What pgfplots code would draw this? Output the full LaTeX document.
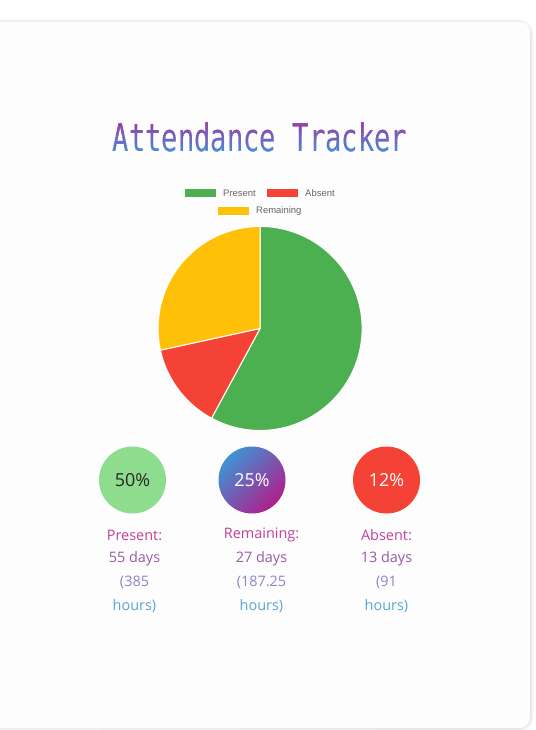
\documentclass[border=0pt]{standalone}
\usepackage{pgfplots}
\pgfplotsset{compat=1.18}
\usepackage{pgfplotstable}
\usepackage{fontspec}
\setmainfont{Open Sans}
\newfontfamily\legendfont{Liberation Sans}
\newfontfamily\titlefont{DejaVu Sans Mono}
\definecolor{cgreen}{HTML}{4CAF50}
\definecolor{cred}{HTML}{F44336}
\definecolor{cyellow}{HTML}{FFC107}
\definecolor{clgreen}{HTML}{8EDD8E}
\definecolor{tmag}{HTML}{A8309A}
\definecolor{tblue}{HTML}{4A8AD4}
\definecolor{gblue}{HTML}{3E93D3}
\definecolor{gpurp}{HTML}{B01E8C}
\definecolor{legtext}{HTML}{666666}
\definecolor{lone}{HTML}{C0409C}
\definecolor{ltwo}{HTML}{9C58A8}
\definecolor{lthree}{HTML}{8A86C8}
\definecolor{lfour}{HTML}{58A6DA}
\definecolor{cardbg}{HTML}{FDFDFD}

\pgfplotstableread{
label value
Present 55
Absent 13
Remaining 27
}\attendance

\begin{document}%
\begin{tikzpicture}[x=1bp,y=1bp]
\pgfplotstablegetelem{0}{value}\of\attendance \let\vP\pgfplotsretval
\pgfplotstablegetelem{1}{value}\of\attendance \let\vA\pgfplotsretval
\pgfplotstablegetelem{2}{value}\of\attendance \let\vR\pgfplotsretval
\pgfmathsetmacro\total{\vP+\vA+\vR}
\pgfmathsetmacro\aZero{90}
\pgfmathsetmacro\aOne{90-360*(\vP/\total)}
\pgfmathsetmacro\aTwo{\aOne-360*(\vA/\total)}
\pgfmathsetmacro\aThree{\aTwo-360*(\vR/\total)}
\fill[white] (0,0) rectangle (536,-730);
% card with soft shadow
\foreach \k/\o in {4/0.02,3/0.025,2/0.03,1/0.035}{
  \fill[black,opacity=\o] (-30,{-22+\k-1}) -- ({518},{-22+\k-1}) arc[start angle=90,end angle=0,radius={12+\k}] -- ({530+\k},{-716}) arc[start angle=0,end angle=-90,radius={12+\k}] -- (-30,{-728-\k+1}) -- cycle;
}
\fill[cardbg] (-30,-22) -- (520,-22) arc[start angle=90,end angle=0,radius=10] -- (530,-718) arc[start angle=0,end angle=-90,radius=10] -- (-30,-728) -- cycle;

% title with vertical gradient
\foreach \i in {0,...,17}{
  \pgfmathsetmacro\pct{100*\i/17}
  \colorlet{tc}{tblue!\pct!tmag}
  \begin{scope}
    \clip (100,{-117-2*\i}) rectangle (420,{-119.4-2*\i});
    \node[anchor=base,text=tc,inner sep=0] at (260,-151) {\titlefont\fontsize{27.3}{30}\selectfont\scalebox{1}[1.4]{Attendance Tracker}};
  \end{scope}
}

% legend
\fill[cgreen] (185,-189) rectangle (216,-197);
\node[anchor=west,inner sep=0,text=legtext] at (223,-193) {\legendfont\fontsize{9.5}{11}\selectfont Present};
\fill[cred] (267,-189) rectangle (298,-197);
\node[anchor=west,inner sep=0,text=legtext] at (305,-193) {\legendfont\fontsize{9.5}{11}\selectfont Absent};
\fill[cyellow] (218,-207) rectangle (249,-215);
\node[anchor=west,inner sep=0,text=legtext] at (256,-211) {\legendfont\fontsize{9.5}{11}\selectfont Remaining};

% pie
\begin{axis}[at={(255,-322)}, anchor=origin, width=204bp, height=204bp,
  scale only axis, xmin=-1, xmax=1, ymin=-1, ymax=1, hide axis, clip=false]
\addplot[fill=cgreen, draw=white, line width=1pt, domain=\aOne:\aZero, samples=120] ({cos(x)},{sin(x)}) -- (axis cs:0,0) -- cycle;
\addplot[fill=cred, draw=white, line width=1pt, domain=\aTwo:\aOne, samples=40] ({cos(x)},{sin(x)}) -- (axis cs:0,0) -- cycle;
\addplot[fill=cyellow, draw=white, line width=1pt, domain=\aThree:\aTwo, samples=80] ({cos(x)},{sin(x)}) -- (axis cs:0,0) -- cycle;
\end{axis}

% circles
\fill[clgreen] (132.5,-480) circle (33.5);
\shade[top color=gblue, bottom color=gpurp, shading angle=45] (252,-480) circle (33.5);
\fill[cred] (386.5,-480) circle (33.5);
\node[text=black!85] at (132.5,-480) {\fontsize{18}{20}\selectfont 50\%};
\node[text=white] at (252,-480) {\fontsize{18}{20}\selectfont 25\%};
\node[text=white] at (386.5,-480) {\fontsize{18}{20}\selectfont 12\%};

% labels
\newcommand\lab[3]{\node[text=#3,inner sep=0] at (#1) {\fontsize{14.5}{17}\selectfont #2};}
\lab{134.5,-535}{Present:}{lone}
\lab{134.5,-558.5}{55 days}{ltwo}
\lab{134.5,-582.5}{(385}{lthree}
\lab{134.5,-606.5}{hours)}{lfour}
\lab{261.5,-535}{Remaining:}{lone}
\lab{261.5,-558.5}{27 days}{ltwo}
\lab{261.5,-582.5}{(187.25}{lthree}
\lab{261.5,-606.5}{hours)}{lfour}
\lab{386.5,-535}{Absent:}{lone}
\lab{386.5,-558.5}{13 days}{ltwo}
\lab{386.5,-582.5}{(91}{lthree}
\lab{386.5,-606.5}{hours)}{lfour}
\pgfresetboundingbox
\useasboundingbox (0,0) rectangle (536,-730);
\end{tikzpicture}%
\end{document}
